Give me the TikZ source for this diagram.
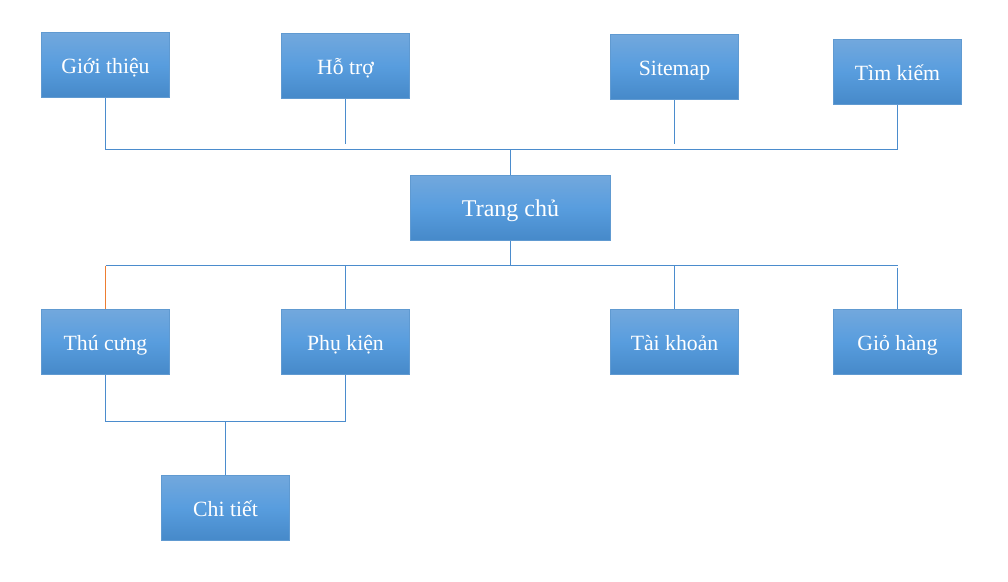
\documentclass[tikz,border=0pt]{standalone}
\usepackage{fontspec}
\setmainfont{Liberation Serif}
\usetikzlibrary{calc,positioning}
\definecolor{boxtop}{RGB}{114,168,221}
\definecolor{boxmid}{RGB}{88,157,222}
\definecolor{boxbot}{RGB}{70,137,201}
\definecolor{boxline}{RGB}{96,154,209}
\definecolor{linkblue}{RGB}{75,140,205}
\definecolor{linkorange}{RGB}{237,125,49}
\begin{document}
\begin{tikzpicture}[x=0.75pt,y=-0.75pt,
		page/.style={rectangle, draw=boxline, line width=0.75pt, top color=boxtop, bottom color=boxbot, middle color=boxmid,
			text=white, minimum width=96pt, minimum height=48.75pt, inner sep=0pt, text height=13.5pt, text depth=1.5pt,
			font=\fontsize{16.3}{19}\selectfont},
		home/.style={page, minimum width=150pt, text height=14.5pt, text depth=1.5pt, font=\fontsize{18}{21}\selectfont},
		link/.style={draw=linkblue, line width=0.8pt}]
		\useasboundingbox (0,0) rectangle (1008,582);
		% top row
		\node[page](gioithieu) at (105.5,65){Giới thiệu};
		\node[page](hotro) at (345.5,66){Hỗ trợ};
		\node[page](sitemap) at (674.5,67){Sitemap};
		\node[page](timkiem) at (897.5,72){Tìm kiếm};
		% centre
		\node[home](trangchu) at (510.5,208){Trang chủ};
		% bottom row
		\node[page](thucung) at (105.5,342){Thú cưng};
		\node[page](phukien) at (345.5,342){Phụ kiện};
		\node[page](taikhoan) at (674.5,342){Tài khoản};
		\node[page](giohang) at (897.5,342){Giỏ hàng};
		\node[page](chitiet) at (225.5,508){Chi tiết};

		\coordinate (topbus) at (510.5,149.5);
		\coordinate (lowbus) at (510.5,265.5);
		\coordinate (subbus) at (225.5,421.5);

		\draw[link] (gioithieu.south) |- (timkiem.south |- topbus) -- (timkiem.south);
		\draw[link, shorten >=4.5pt] (hotro.south) -- (hotro.south |- topbus);
		\draw[link, shorten >=4.5pt] (sitemap.south) -- (sitemap.south |- topbus);
		\draw[link] (topbus) -- (trangchu.north);

		\draw[link] (trangchu.south) -- (lowbus);
		\draw[link] (thucung.north |- lowbus) -- (giohang.north |- lowbus);
		\draw[draw=linkorange, line width=0.8pt] (thucung.north |- lowbus) -- (thucung.north);
		\draw[link] (phukien.north |- lowbus) -- (phukien.north);
		\draw[link] (taikhoan.north |- lowbus) -- (taikhoan.north);
		\draw[link, shorten <=1.5pt] (giohang.north |- lowbus) -- (giohang.north);

		\draw[link] (thucung.south) |- (subbus) -| (phukien.south);
		\draw[link] (subbus) -- (chitiet.north);
	\end{tikzpicture}
\end{document}
